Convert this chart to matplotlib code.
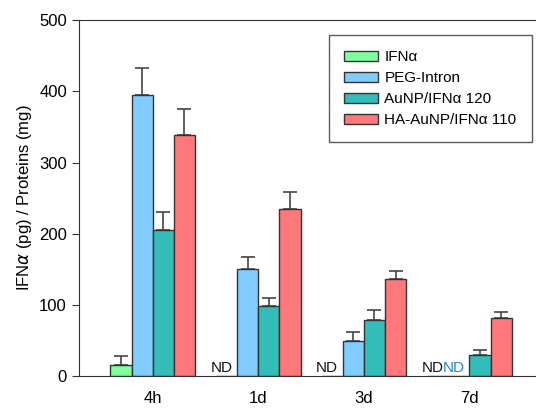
import numpy as np
import matplotlib
matplotlib.use("Agg")
import matplotlib.pyplot as plt

plt.rcParams["font.family"] = ["Liberation Sans", "DejaVu Sans"]

# --- datos ---
tiempos = ["4h", "1d", "3d", "7d"]
series = ["IFNα", "PEG-Intron", "AuNP/IFNα 120", "HA-AuNP/IFNα 110"]
colores = ["#80FFA0", "#80CCFF", "#33BDB8", "#FF787C"]

# None = ND (no detectado)
ifna = [15, None, None, None]
ifna_err = [13, 0, 0, 0]
peg = [395, 150, 49, None]
peg_err = [38, 17, 13, 0]
aunp = [205, 98, 79, 30]
aunp_err = [25, 11, 14, 7]
ha_aunp = [338, 235, 136, 81]
ha_aunp_err = [37, 23, 11, 9]

valores = [ifna, peg, aunp, ha_aunp]
errores = [ifna_err, peg_err, aunp_err, ha_aunp_err]
nd_color = ["#111111", "#1E88D0", "#111111", "#111111"]

fig = plt.figure(figsize=(5.36, 4.11), dpi=100)
ax = fig.add_axes([0.147, 0.085, 0.853, 0.866])

x = np.arange(len(tiempos))
w = 0.2
for i, (vals, errs, c, nom) in enumerate(zip(valores, errores, colores, series)):
    pos = x + (i - 1.5) * w
    h = [v if v is not None else 0 for v in vals]
    ax.bar(pos, h, w, color=c, edgecolor="#333333", linewidth=1.0,
           label=nom, zorder=2)
    for p, v, e in zip(pos, vals, errs):
        if v is None:
            ax.text(p - 0.05, 2, "ND", ha="center", va="bottom",
                    fontsize=11, color=nd_color[i])
        else:
            ax.errorbar(p, v, yerr=[[0], [e]], fmt="none", ecolor="#444444",
                        elinewidth=1.2, capsize=5, capthick=1.2, zorder=1)

ax.set_xlim(-0.70, 3.63)
ax.set_ylim(0, 500)
ax.set_xticks(x)
ax.set_xticklabels(tiempos, fontsize=12)
ax.tick_params(axis="x", length=0, pad=11)
ax.set_yticks([0, 100, 200, 300, 400, 500])
ax.tick_params(axis="y", labelsize=12, length=5, direction="out", color="#333333")
ax.set_ylabel("IFN$\\alpha$ (pg) / Proteins (mg)", fontsize=12)
for s in ["left", "top", "bottom"]:
    ax.spines[s].set_color("#333333")
ax.spines["right"].set_visible(False)

leg = ax.legend(loc="upper right", bbox_to_anchor=(0.991, 0.958),
                borderaxespad=0, fontsize=11, fancybox=False,
                handlelength=2.2, handleheight=0.65, labelspacing=0.45,
                handletextpad=0.45, borderpad=1.0)
leg.get_frame().set_edgecolor("#333333")
leg.get_frame().set_linewidth(1.0)

fig.savefig("out.png", dpi=100)
